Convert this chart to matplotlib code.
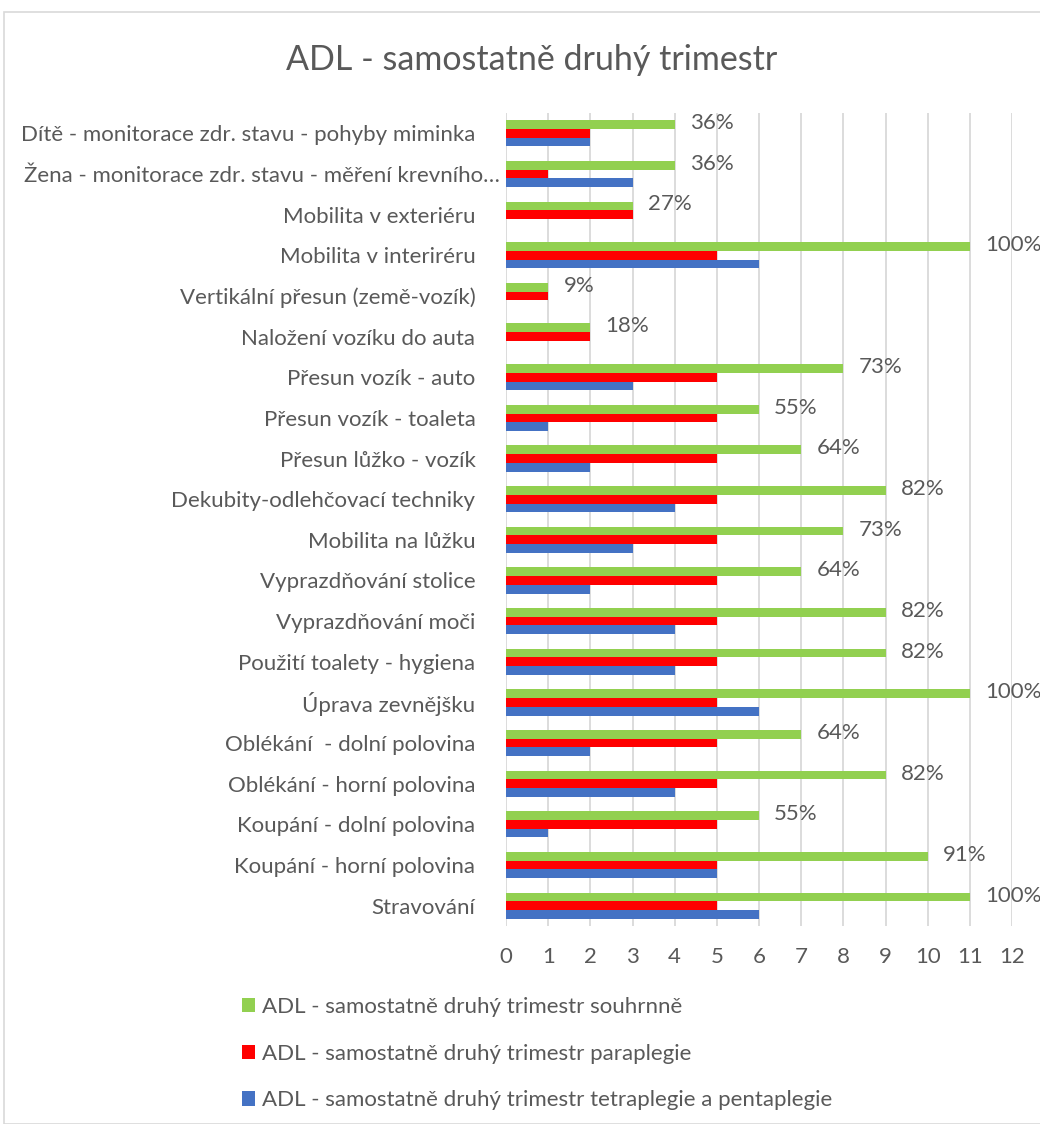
import matplotlib
matplotlib.use("Agg")
import matplotlib.pyplot as plt
from matplotlib.patches import Rectangle
from matplotlib.transforms import ScaledTranslation
import numpy as np

plt.rcParams['font.family'] = ['Lato', 'DejaVu Sans']

categories = [
    "Dítě - monitorace zdr. stavu - pohyby miminka",
    "Žena - monitorace zdr. stavu - měření krevního…",
    "Mobilita v exteriéru",
    "Mobilita v interiréru",
    "Vertikální přesun (země-vozík)",
    "Naložení vozíku do auta",
    "Přesun vozík - auto",
    "Přesun vozík - toaleta",
    "Přesun lůžko - vozík",
    "Dekubity-odlehčovací techniky",
    "Mobilita na lůžku",
    "Vyprazdňování stolice",
    "Vyprazdňování moči",
    "Použití toalety - hygiena",
    "Úprava zevnějšku",
    "Oblékání  - dolní polovina",
    "Oblékání - horní polovina",
    "Koupání - dolní polovina",
    "Koupání - horní polovina",
    "Stravování",
]
souhrnne = [4, 4, 3, 11, 1, 2, 8, 6, 7, 9, 8, 7, 9, 9, 11, 7, 9, 6, 10, 11]
paraplegie = [2, 1, 3, 5, 1, 2, 5, 5, 5, 5, 5, 5, 5, 5, 5, 5, 5, 5, 5, 5]
tetraplegie = [2, 3, 0, 6, 0, 0, 3, 1, 2, 4, 3, 2, 4, 4, 6, 2, 4, 1, 5, 6]
total_n = 11

series_names = [
    "ADL - samostatně druhý trimestr souhrnně",
    "ADL - samostatně druhý trimestr paraplegie",
    "ADL - samostatně druhý trimestr tetraplegie a pentaplegie",
]
colors = ["#92D050", "#FF0000", "#4472C4"]
text_color = "#595959"

W, H = 1040, 1124
fig = plt.figure(figsize=(W / 100, H / 100), dpi=100)

# chart frame
fig.patches.append(Rectangle((4 / W, 0), 1.2, 1 - 12 / H, transform=fig.transFigure,
                             fill=False, edgecolor="#D9D9D9", linewidth=1.2))

ax = fig.add_axes([506 / W, 1 - 926 / H, 506 / W, 813 / H])
y = np.arange(len(categories))
bh = 0.215
ax.barh(y - bh, souhrnne, height=bh, color=colors[0], label=series_names[0], zorder=3)
ax.barh(y, paraplegie, height=bh, color=colors[1], label=series_names[1], zorder=3)
ax.barh(y + bh, tetraplegie, height=bh, color=colors[2], label=series_names[2], zorder=3)

for yi, v in zip(y, souhrnne):
    ax.annotate(f"{round(v / total_n * 100):.0f}%", xy=(v, yi - bh), xytext=(11, 1),
                textcoords="offset points", va="center", ha="left",
                fontsize=16, color=text_color, annotation_clip=False)

ax.set_xlim(0, 12)
ax.set_ylim(len(categories) - 0.5, -0.5)
ax.set_xticks(range(0, 13))
ax.set_yticks(y)
ax.set_yticklabels(categories)
ax.tick_params(axis="both", length=0, labelsize=16, labelcolor=text_color)
ax.tick_params(axis="y", pad=22)
ax.tick_params(axis="x", pad=15)
ax.grid(axis="x", color="#D9D9D9", linewidth=1.3, zorder=0)
for s in ax.spines.values():
    s.set_visible(False)

# the truncated label sits closer to the axis
for lbl in ax.get_yticklabels():
    if lbl.get_text().endswith("…"):
        lbl.set_transform(lbl.get_transform() + ScaledTranslation(24 / 100, 0, fig.dpi_scale_trans))

fig.text(532 / W, 1 - 60 / H, "ADL - samostatně druhý trimestr",
         ha="center", va="center", fontsize=24.5, color=text_color)

handles, labels = ax.get_legend_handles_labels()
fig.legend(handles, labels, loc="upper left", bbox_to_anchor=(222 / W, 1 - 977 / H),
           frameon=False, fontsize=16, labelcolor=text_color, handlelength=0.6,
           handleheight=0.6, handletextpad=0.3, labelspacing=1.2)

fig.savefig("out.png", dpi=100)
